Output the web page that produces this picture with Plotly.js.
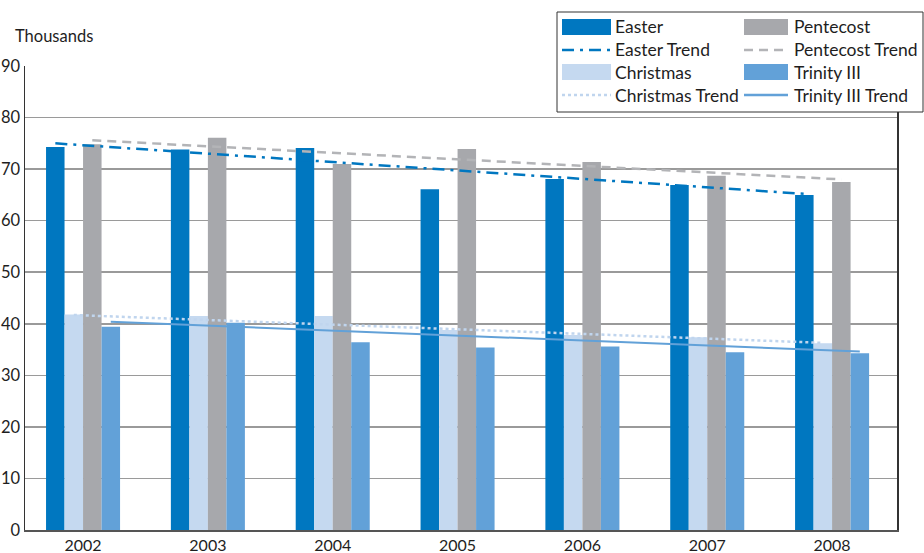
<!DOCTYPE html>
<html><head><meta charset="utf-8">
<script src="https://cdn.plot.ly/plotly-3.0.1.min.js"></script>
<style>body{margin:0;padding:0;background:#fff}#chart{width:924px;height:553px}</style>
</head><body><div id="chart"></div>
<script>
const years = [2002, 2003, 2004, 2005, 2006, 2007, 2008];
const yearLabels = ["2002", "2003", "2004", "2005", "2006", "2007", "2008"];
const easter    = [74.3, 73.8, 74.1, 66.1, 68.1, 66.9, 65.0];
const christmas = [41.8, 41.5, 41.5, 38.8, 37.8, 37.4, 36.2];
const pentecost = [74.8, 76.1, 71.0, 73.9, 71.4, 68.7, 67.5];
const trinity   = [39.4, 40.2, 36.4, 35.4, 35.6, 34.5, 34.3];
// trend line endpoints (first year, last year)
const trendYears = [2002, 2008];
const easterTrend    = [75.0, 65.2];
const christmasTrend = [41.7, 36.3];
const pentecostTrend = [75.6, 68.0];
const trinityTrend   = [40.4, 34.6];
const legendNames = ["Easter", "Pentecost", "Easter Trend", "Pentecost Trend",
                     "Christmas", "Trinity III", "Christmas Trend", "Trinity III Trend"];

const BW = 0.148; // bar width in year units (visual)
const off = k => (k - 1.5) * BW;
const sh = (arr, k) => arr.map(v => v + off(k));

const cE = "#0077c0", cC = "#c5d9f0", cP = "#a7a8ac", cT = "#62a1d8";
const cPT = "#b3b4b7", cCT = "#c0d5ee";
const dE = "12px,6px,3px,6px", dP = "9px,6px";
const font = "Lato, 'Open Sans', sans-serif";
const txt = "#1e1e1e";

const data = [
  {type: "bar", name: "Easter", x: years, y: easter, marker: {color: cE}},
  {type: "bar", name: "Christmas", x: years, y: christmas, marker: {color: cC}},
  {type: "bar", name: "Pentecost", x: years, y: pentecost, marker: {color: cP}},
  {type: "bar", name: "Trinity III", x: years, y: trinity, marker: {color: cT}},
  {type: "scatter", mode: "lines", name: "Easter Trend", x: sh(trendYears, 0), y: easterTrend,
   line: {color: cE, width: 2.5, dash: dE}},
  {type: "scatter", mode: "lines", name: "Pentecost Trend", x: sh(trendYears, 2), y: pentecostTrend,
   line: {color: cPT, width: 2.5, dash: dP}},
  {type: "scatter", mode: "lines", name: "Christmas Trend", x: sh(trendYears, 1), y: christmasTrend,
   line: {color: cCT, width: 2.5, dash: "dot"}},
  {type: "scatter", mode: "lines", name: "Trinity III Trend", x: sh(trendYears, 3), y: trinityTrend,
   line: {color: cT, width: 2}}
];

// manual legend (pixel -> paper helpers)
const L = 25, R = 897, T = 66, B = 530;
const px = p => (p - L) / (R - L);
const py = p => (B - p) / (B - T);
const shapes = [
  {type: "rect", xref: "paper", yref: "paper", x0: px(557), x1: px(923), y0: py(12), y1: py(112),
   line: {color: "#333", width: 1}, fillcolor: "#fff", layer: "above"}
];
const annotations = [
  {text: "Thousands", xref: "paper", yref: "paper", x: px(13), y: py(36), xanchor: "left", yanchor: "middle",
   showarrow: false, font: {family: font, size: 16.5, color: txt}}
];
const legendStyle = [
  {kind: "bar", color: cE}, {kind: "bar", color: cP},
  {kind: "line", color: cE, dash: dE, width: 2.5}, {kind: "line", color: cPT, dash: dP, width: 2.5},
  {kind: "bar", color: cC}, {kind: "bar", color: cT},
  {kind: "line", color: cCT, dash: "dot", width: 2.5}, {kind: "line", color: cT, dash: "solid", width: 2.5}
];
const rowY = [27, 50, 72, 95];
const colX = [[562, 611, 613], [744, 788, 792]];
legendNames.forEach((name, i) => {
  const row = Math.floor(i / 2), col = i % 2;
  const [sx0, sx1, tx] = colX[col];
  const yc = rowY[row];
  const st = legendStyle[i];
  if (st.kind === "bar") {
    shapes.push({type: "rect", xref: "paper", yref: "paper", x0: px(sx0), x1: px(sx1),
      y0: py(yc - 8), y1: py(yc + 8), line: {width: 0}, fillcolor: st.color, layer: "above"});
  } else {
    shapes.push({type: "line", xref: "paper", yref: "paper", x0: px(sx0), x1: px(sx1),
      y0: py(yc), y1: py(yc), line: {color: st.color, width: st.width, dash: st.dash}, layer: "above"});
  }
  annotations.push({text: name, xref: "paper", yref: "paper", x: px(tx), y: py(yc),
    xanchor: "left", yanchor: "middle", showarrow: false,
    font: {family: font, size: 17.5, color: txt}});
});

const layout = {
  width: 924, height: 553,
  margin: {l: L, r: 924 - R, t: T, b: 553 - B},
  paper_bgcolor: "#fff", plot_bgcolor: "#fff",
  font: {family: font, size: 16, color: txt},
  barmode: "group", bargap: 0.407, bargroupgap: 0,
  showlegend: false,
  xaxis: {
    type: "linear", range: [2001.535, 2008.52],
    tickvals: years, ticktext: yearLabels, ticks: "",
    showgrid: false, zeroline: false,
    showline: true, linecolor: "#555", linewidth: 1.5,
    tickfont: {size: 16, color: txt}
  },
  yaxis: {
    range: [0, 90], dtick: 10, ticks: "",
    showgrid: true, gridcolor: "#9a9a9a", gridwidth: 1.5,
    zeroline: false, showline: true, mirror: true, linecolor: "#333", linewidth: 1.5,
    tickfont: {size: 16.5, color: txt}
  },
  shapes: shapes,
  annotations: annotations
};

Plotly.newPlot("chart", data, layout, {displayModeBar: false, staticPlot: true});
</script>
</body></html>
